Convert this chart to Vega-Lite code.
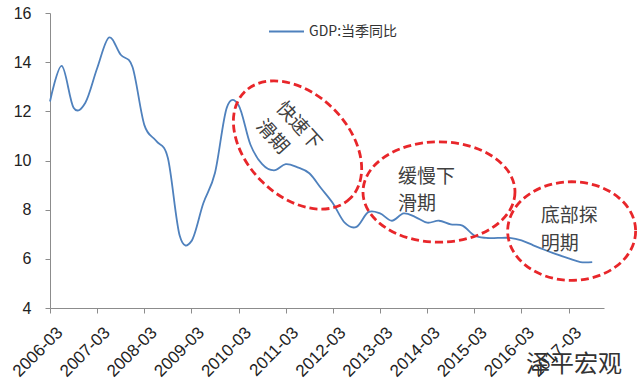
{
  "$schema": "https://vega.github.io/schema/vega-lite/v6.json",
  "autosize": "none",
  "width": 554,
  "height": 295,
  "padding": {"left": 50, "top": 13, "right": 36, "bottom": 83},
  "background": "white",
  "title": {"text": "泽平宏观", "orient": "bottom", "anchor": "end", "frame": "group", "font": "Noto Sans CJK SC", "fontSize": 24, "fontWeight": "normal", "color": "#333333", "offset": -26, "dx": 18},
  "datasets": {
    "gdp": [
      {"quarter": "2006-03", "value": 12.4},
      {"quarter": "2006-06", "value": 13.85},
      {"quarter": "2006-09", "value": 12.15},
      {"quarter": "2006-12", "value": 12.35},
      {"quarter": "2007-03", "value": 13.75},
      {"quarter": "2007-06", "value": 15.0},
      {"quarter": "2007-09", "value": 14.3},
      {"quarter": "2007-12", "value": 13.8},
      {"quarter": "2008-03", "value": 11.45},
      {"quarter": "2008-06", "value": 10.8},
      {"quarter": "2008-09", "value": 10.1},
      {"quarter": "2008-12", "value": 6.95},
      {"quarter": "2009-03", "value": 6.72},
      {"quarter": "2009-06", "value": 8.25},
      {"quarter": "2009-09", "value": 9.5},
      {"quarter": "2009-12", "value": 12.15},
      {"quarter": "2010-03", "value": 12.25},
      {"quarter": "2010-06", "value": 10.65},
      {"quarter": "2010-09", "value": 9.85},
      {"quarter": "2010-12", "value": 9.6},
      {"quarter": "2011-03", "value": 9.85},
      {"quarter": "2011-06", "value": 9.72},
      {"quarter": "2011-09", "value": 9.48},
      {"quarter": "2011-12", "value": 8.87},
      {"quarter": "2012-03", "value": 8.26},
      {"quarter": "2012-06", "value": 7.47},
      {"quarter": "2012-09", "value": 7.3},
      {"quarter": "2012-12", "value": 7.9},
      {"quarter": "2013-03", "value": 7.85},
      {"quarter": "2013-06", "value": 7.55},
      {"quarter": "2013-09", "value": 7.85},
      {"quarter": "2013-12", "value": 7.7},
      {"quarter": "2014-03", "value": 7.47},
      {"quarter": "2014-06", "value": 7.55},
      {"quarter": "2014-09", "value": 7.4},
      {"quarter": "2014-12", "value": 7.35},
      {"quarter": "2015-03", "value": 6.95},
      {"quarter": "2015-06", "value": 6.85},
      {"quarter": "2015-09", "value": 6.85},
      {"quarter": "2015-12", "value": 6.85},
      {"quarter": "2016-03", "value": 6.75},
      {"quarter": "2016-06", "value": 6.55},
      {"quarter": "2016-09", "value": 6.36},
      {"quarter": "2016-12", "value": 6.18},
      {"quarter": "2017-03", "value": 6.02},
      {"quarter": "2017-06", "value": 5.87},
      {"quarter": "2017-09", "value": 5.87}
    ],
    "notes": [
      {"id": 1, "quarter": "2011-06", "value": 10.63, "label": "快速下\n滑期"},
      {"id": 2, "quarter": "2014-06", "value": 8.72, "label": "缓慢下\n滑期"},
      {"id": 3, "quarter": "2017-03", "value": 7.13, "label": "底部探\n明期"}
    ]
  },
  "config": {
    "view": {"stroke": null},
    "axis": {"grid": false, "domainColor": "#8c8c8c", "tickColor": "#8c8c8c", "labelFont": "Liberation Sans", "labelColor": "#222222", "labelFontSize": 16, "tickSize": 5}
  },
  "layer": [
    {
      "data": {"name": "gdp"},
      "mark": {"type": "line", "interpolate": "cardinal", "tension": 0, "strokeWidth": 1.8},
      "encoding": {
        "x": {"field": "quarter", "type": "ordinal", "title": null,
              "scale": {"type": "point", "padding": 0, "domain": {"unionWith": ["2017-12"]}},
              "axis": {"values": ["2006-03","2007-03","2008-03","2009-03","2010-03","2011-03","2012-03","2013-03","2014-03","2015-03","2016-03","2017-03"], "labelAngle": -45, "labelAlign": "right", "labelBaseline": "top", "labelFontSize": 17, "labelPadding": 11, "labelOffset": 4, "title": null}},
        "y": {"field": "value", "type": "quantitative", "title": null,
              "scale": {"domain": [4, 16], "nice": false, "zero": false},
              "axis": {"values": [4, 6, 8, 10, 12, 14, 16], "labelPadding": 14, "title": null}},
        "color": {"datum": "GDP:当季同比", "scale": {"range": ["#4F81BD"]},
                  "legend": {"orient": "none", "legendX": 218, "legendY": 0, "title": null, "symbolType": "stroke", "symbolSize": 1225, "symbolStrokeWidth": 1.8, "labelFont": "Noto Sans CJK SC", "labelFontSize": 14, "labelColor": "#333333", "padding": 0}}
      }
    },
    {
      "data": {"name": "notes"},
      "transform": [{"filter": "datum.id == 1"}],
      "layer": [
        {"mark": {"type": "point", "shape": "M1,0 C1,0.3756 0.5523,0.68 0,0.68 C-0.5523,0.68 -1,0.3756 -1,0 C-1,-0.3756 -0.5523,-0.68 0,-0.68 C0.5523,-0.68 1,-0.3756 1,0 Z", "size": 22500, "angle": 45, "filled": false, "opacity": 1, "stroke": "#E8262A", "strokeWidth": 2.8, "strokeDash": [8, 4]}},
        {"mark": {"type": "text", "align": "left", "baseline": "middle", "angle": 48, "dx": -42, "dy": -14, "lineBreak": "\n", "lineHeight": 27, "font": "Noto Sans CJK SC", "fontSize": 19, "color": "#404040"}, "encoding": {"text": {"field": "label"}}}
      ],
      "encoding": {
        "x": {"field": "quarter", "type": "ordinal", "title": null},
        "y": {"field": "value", "type": "quantitative", "title": null}
      }
    },
    {
      "data": {"name": "notes"},
      "transform": [{"filter": "datum.id == 2"}],
      "layer": [
        {"mark": {"type": "point", "shape": "M1,0 C1,0.3645 0.5523,0.66 0,0.66 C-0.5523,0.66 -1,0.3645 -1,0 C-1,-0.3645 -0.5523,-0.66 0,-0.66 C0.5523,-0.66 1,-0.3645 1,0 Z", "size": 23104, "filled": false, "opacity": 1, "stroke": "#E8262A", "strokeWidth": 2.8, "strokeDash": [8, 4]}},
        {"mark": {"type": "text", "align": "left", "baseline": "middle", "dx": -41, "dy": -15, "lineBreak": "\n", "lineHeight": 27, "font": "Noto Sans CJK SC", "fontSize": 19, "color": "#404040"}, "encoding": {"text": {"field": "label"}}}
      ],
      "encoding": {
        "x": {"field": "quarter", "type": "ordinal", "title": null},
        "y": {"field": "value", "type": "quantitative", "title": null}
      }
    },
    {
      "data": {"name": "notes"},
      "transform": [{"filter": "datum.id == 3"}],
      "layer": [
        {"mark": {"type": "point", "shape": "M1,0 C1,0.4253 0.5523,0.77 0,0.77 C-0.5523,0.77 -1,0.4253 -1,0 C-1,-0.4253 -0.5523,-0.77 0,-0.77 C0.5523,-0.77 1,-0.4253 1,0 Z", "size": 16384, "xOffset": 3, "filled": false, "opacity": 1, "stroke": "#E8262A", "strokeWidth": 2.8, "strokeDash": [8, 4]}},
        {"mark": {"type": "text", "align": "left", "baseline": "middle", "dx": -28, "dy": -15, "lineBreak": "\n", "lineHeight": 28, "font": "Noto Sans CJK SC", "fontSize": 19, "color": "#404040"}, "encoding": {"text": {"field": "label"}}}
      ],
      "encoding": {
        "x": {"field": "quarter", "type": "ordinal", "title": null},
        "y": {"field": "value", "type": "quantitative", "title": null}
      }
    }
  ]
}
